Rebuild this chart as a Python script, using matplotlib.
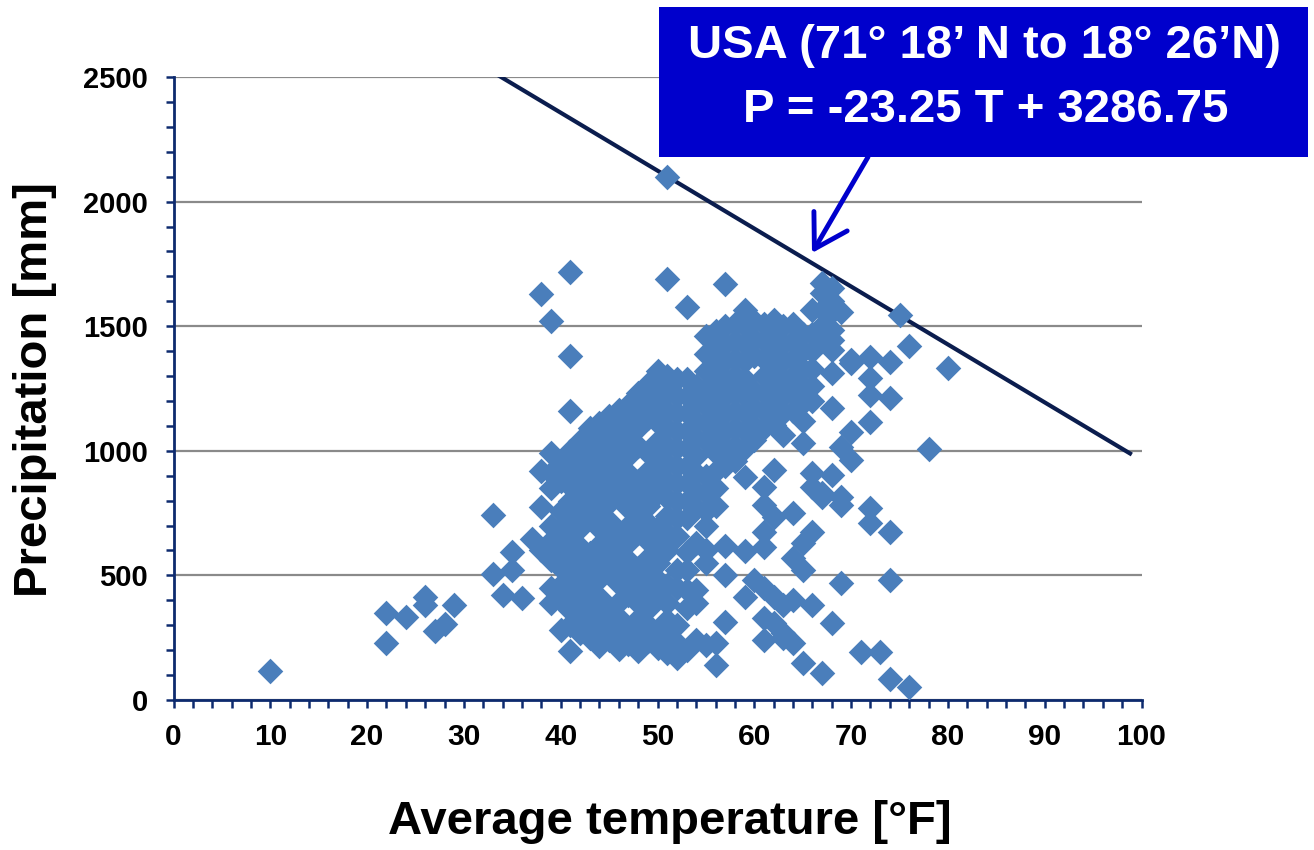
import numpy as np
import matplotlib
matplotlib.use("Agg")
import matplotlib.pyplot as plt
from matplotlib.patches import Rectangle
from matplotlib.ticker import MultipleLocator

plt.rcParams["font.family"] = ["Liberation Sans", "DejaVu Sans"]

# ---------------------------------------------------------------------------
# Station data: mean annual temperature [F] and annual precipitation [mm]
# (one line per temperature column)
# ---------------------------------------------------------------------------
temp_f = [
    10,
    22, 22,
    24,
    26, 26,
    27,
    28,
    29,
    33, 33,
    34,
    35, 35,
    36,
    37,
    38, 38, 38, 38,
    39, 39, 39, 39, 39, 39, 39, 39, 39,
    40, 40, 40, 40, 40, 40, 40, 40, 40,
    41, 41, 41, 41, 41, 41, 41, 41, 41, 41, 41, 41, 41, 41, 41,
    42, 42, 42, 42, 42, 42, 42, 42, 42, 42, 42, 42,
    43, 43, 43, 43, 43, 43, 43, 43, 43, 43, 43, 43,
    44, 44, 44, 44, 44, 44, 44, 44, 44, 44, 44, 44, 44, 44,
    45, 45, 45, 45, 45, 45, 45, 45, 45, 45, 45, 45, 45,
    46, 46, 46, 46, 46, 46, 46, 46, 46, 46, 46, 46, 46, 46,
    47, 47, 47, 47, 47, 47, 47, 47, 47, 47, 47, 47, 47, 47,
    48, 48, 48, 48, 48, 48, 48, 48, 48, 48, 48, 48, 48, 48,
    49, 49, 49, 49, 49, 49, 49, 49, 49, 49, 49, 49, 49, 49, 49,
    50, 50, 50, 50, 50, 50, 50, 50, 50, 50, 50, 50, 50, 50, 50,
    51, 51, 51, 51, 51, 51, 51, 51, 51, 51, 51, 51, 51, 51, 51, 51, 51, 51,
    52, 52, 52, 52, 52, 52, 52, 52, 52, 52, 52, 52, 52, 52, 52,
    53, 53, 53, 53, 53, 53, 53, 53, 53, 53, 53, 53, 53, 53, 53,
    54, 54, 54, 54, 54, 54, 54, 54, 54, 54, 54, 54,
    55, 55, 55, 55, 55, 55, 55, 55, 55, 55, 55, 55, 55, 55,
    56, 56, 56, 56, 56, 56, 56, 56, 56, 56, 56, 56, 56,
    57, 57, 57, 57, 57, 57, 57, 57, 57, 57, 57, 57, 57,
    58, 58, 58, 58, 58, 58, 58, 58, 58,
    59, 59, 59, 59, 59, 59, 59, 59, 59, 59, 59, 59,
    60, 60, 60, 60, 60, 60, 60, 60,
    61, 61, 61, 61, 61, 61, 61, 61, 61, 61, 61, 61, 61, 61,
    62, 62, 62, 62, 62, 62, 62, 62, 62, 62, 62,
    63, 63, 63, 63, 63, 63, 63, 63, 63, 63,
    64, 64, 64, 64, 64, 64, 64, 64, 64, 64,
    65, 65, 65, 65, 65, 65, 65, 65, 65, 65,
    66, 66, 66, 66, 66, 66, 66, 66, 66, 66,
    67, 67, 67, 67, 67, 67, 67, 67,
    68, 68, 68, 68, 68, 68, 68, 68, 68, 68,
    69, 69, 69, 69, 69,
    70, 70, 70, 70,
    71,
    72, 72, 72, 72, 72, 72,
    73,
    74, 74, 74, 74, 74,
    75,
    76, 76,
    78,
    80,
]

precip_mm = [
    115,
    350, 230,
    333,
    413, 380,
    275,
    305,
    380,
    742, 505,
    420,
    594, 520,
    410,
    646,
    1630, 920, 775, 600,
    1520, 990, 910, 850, 700, 640, 560, 450, 390,
    950, 880, 760, 690, 600, 530, 460, 400, 280,
    1718, 1380, 1160, 1000, 930, 860, 800, 720, 650, 580, 500, 430, 360, 300, 195,
    1040, 975, 905, 830, 760, 690, 615, 545, 470, 400, 330, 270,
    1090, 1020, 945, 875, 800, 735, 590, 520, 455, 385, 320, 250,
    1110, 1045, 975, 905, 835, 760, 690, 620, 555, 485, 415, 345, 280, 215,
    1140, 1070, 1000, 930, 860, 790, 720, 650, 580, 510, 370, 305, 240,
    1165, 1095, 1025, 955, 885, 815, 675, 605, 535, 465, 395, 330, 265, 205,
    1185, 1120, 1050, 980, 910, 840, 770, 700, 630, 560, 490, 420, 290, 225,
    1230, 1160, 1090, 1020, 880, 810, 740, 670, 530, 460, 390, 325, 260, 195,
    1270, 1200, 1130, 990, 920, 850, 780, 710, 640, 570, 500, 430, 365, 300, 235,
    1320, 1250, 1180, 1110, 1040, 970, 900, 830, 690, 620, 550, 480, 410, 275, 210,
    2100, 1690, 1300, 1230, 1160, 1090, 1020, 950, 880, 810, 740, 670, 600, 460, 390, 320, 250, 190,
    1290, 1220, 1150, 1080, 1010, 940, 870, 800, 730, 660, 520, 450, 300, 230, 170,
    1577, 1290, 1220, 1150, 1080, 1010, 940, 870, 800, 730, 594, 522, 440, 370, 201,
    1260, 1190, 1120, 1050, 980, 910, 840, 770, 630, 441, 389, 241,
    1460, 1390, 1320, 1250, 1180, 1110, 1040, 900, 830, 760, 700, 602, 550, 221,
    1480, 1410, 1340, 1270, 1200, 1130, 1060, 990, 920, 850, 780, 229, 140,
    1670, 1500, 1430, 1360, 1290, 1220, 1150, 1080, 1010, 940, 618, 502, 313,
    1510, 1440, 1370, 1300, 1230, 1160, 1090, 1020, 960,
    1565, 1500, 1430, 1360, 1290, 1220, 1150, 1080, 1010, 895, 598, 413,
    1520, 1450, 1380, 1240, 1170, 1100, 1045, 482,
    1510, 1440, 1370, 1300, 1230, 1160, 1090, 855, 783, 674, 614, 449, 329, 241,
    1525, 1455, 1385, 1315, 1245, 1175, 1105, 923, 734, 413, 309,
    1500, 1430, 1360, 1290, 1220, 1150, 1063, 381, 269, 249,
    1510, 1440, 1370, 1300, 1230, 1160, 750, 570, 401, 229,
    1470, 1400, 1330, 1260, 1190, 1120, 1031, 630, 522, 148,
    1565, 1470, 1400, 1330, 1260, 1200, 911, 855, 674, 381,
    1673, 1633, 1565, 1500, 1440, 831, 815, 108,
    1653, 1600, 1557, 1485, 1445, 1405, 1312, 1172, 903, 309,
    1557, 1015, 815, 783, 469,
    1364, 1352, 1076, 963,
    193,
    1377, 1292, 1224, 1116, 770, 710,
    193,
    1357, 1212, 674, 482, 84,
    1545,
    1420, 52,
    1007,
    1332,
]

assert len(temp_f) == len(precip_mm)

# upper envelope P = a*T + b
fit_slope = -23.25
fit_intercept = 3286.75
fit_temp_range = [33, 99]

x_major = list(range(0, 101, 10))
y_major = [0, 500, 1000, 1500, 2000, 2500]

box_title = "USA (71° 18’ N to 18° 26’N)"
box_equation = f"P = {fit_slope} T + {fit_intercept}"

# ---------------------------------------------------------------------------
# Figure
# ---------------------------------------------------------------------------
W, H = 1314, 850
AXIS_BLUE = "#0d2a6e"
MARKER_BLUE = "#4a7ebb"
BOX_BLUE = "#0000cc"

fig = plt.figure(figsize=(W / 100, H / 100), dpi=100)
ax = fig.add_axes([173.5 / W, 150 / H, 968 / W, 623 / H])

ax.scatter(temp_f, precip_mm, marker="D", s=170, color=MARKER_BLUE,
           linewidths=0, zorder=3)

fit_t = np.array(fit_temp_range, dtype=float)
ax.plot(fit_t, fit_slope * fit_t + fit_intercept, color="#0b1d4e", lw=3,
        zorder=2.5, solid_capstyle="butt")

ax.set_xlim(0, 100)
ax.set_ylim(0, 2500)
ax.set_xticks(x_major)
ax.set_yticks(y_major)
ax.xaxis.set_minor_locator(MultipleLocator(2))
ax.yaxis.set_minor_locator(MultipleLocator(100))

ax.yaxis.grid(True, which="major", color="#8a8a8a", lw=1.6)
ax.set_axisbelow(True)

for side in ("top", "right"):
    ax.spines[side].set_visible(False)
for side in ("left", "bottom"):
    ax.spines[side].set_color(AXIS_BLUE)
    ax.spines[side].set_linewidth(2)

ax.tick_params(which="both", direction="out", length=5.5, width=1.8,
               color=AXIS_BLUE)
ax.tick_params(axis="x", which="major", pad=11, labelsize=21.5)
ax.tick_params(axis="y", which="major", pad=13, labelsize=21)
for lbl in ax.get_xticklabels() + ax.get_yticklabels():
    lbl.set_fontweight("bold")

fig.text(670 / W, 1 - 822 / H, "Average temperature [°F]", fontsize=34,
         fontweight="bold", ha="center", va="center")
fig.text(35 / W, 1 - 390 / H, "Precipitation [mm]", fontsize=34,
         fontweight="bold", ha="center", va="center", rotation=90)

# equation call-out
fig.add_artist(Rectangle((659 / W, 1 - 157 / H), 649 / W, 150 / H,
                         transform=fig.transFigure, facecolor=BOX_BLUE,
                         edgecolor="none", zorder=5))
fig.text(985 / W, 1 - 46 / H, box_title, fontsize=34, fontweight="bold",
         color="white", ha="center", va="center", zorder=6)
fig.text(986 / W, 1 - 110 / H, box_equation, fontsize=34, fontweight="bold",
         color="white", ha="center", va="center", zorder=6)

ax.annotate("", xy=(812, H - 253), xycoords="figure pixels",
            xytext=(868, H - 157), textcoords="figure pixels",
            arrowprops=dict(arrowstyle="->,head_length=0.55,head_width=0.33",
                            mutation_scale=42, color=BOX_BLUE, lw=3.5,
                            shrinkA=0, shrinkB=0),
            annotation_clip=False, zorder=6)

fig.savefig("out.png", dpi=100)
